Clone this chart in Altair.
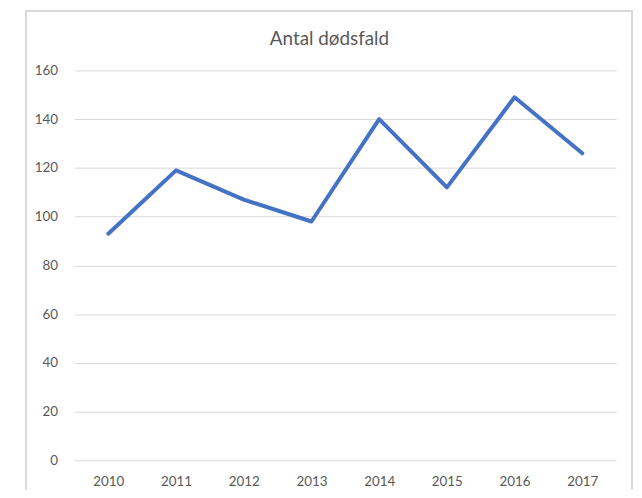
import altair as alt
import pandas as pd

years = ["2010", "2011", "2012", "2013", "2014", "2015", "2016", "2017"]
deaths = [93, 119, 107, 98, 140, 112, 149, 126]
y_ticks = [0, 20, 40, 60, 80, 100, 120, 140, 160]
title_text = "Antal dødsfald"

df = pd.DataFrame({"year": years, "deaths": deaths})

W, H = 546, 393
FONT = "Lato"
GREY = "#595959"

line = alt.Chart(df).mark_line(color="#4472C4", strokeWidth=4, strokeCap="round", strokeJoin="round").encode(
    x=alt.X("year:O", sort=years, title=None,
            scale=alt.Scale(type="point", padding=0.5),
            axis=alt.Axis(labelAngle=0, ticks=False, domain=False, grid=False,
                          labelFont=FONT, labelFontSize=13.5, labelColor=GREY, labelPadding=14)),
    y=alt.Y("deaths:Q", title=None,
            scale=alt.Scale(domain=[0, 160], nice=False),
            axis=alt.Axis(values=y_ticks, ticks=False, domain=False, grid=True,
                          gridColor="#d9d9d9", gridWidth=1,
                          labelFont=FONT, labelFontSize=13.5, labelColor=GREY, labelPadding=17)),
)

border = alt.Chart(df).mark_rect(fill=None, stroke="#d9d9d9", strokeWidth=1.5).encode(
    x=alt.value(-49), x2=alt.value(562), y=alt.value(-60), y2=alt.value(440)
)

title = alt.Chart(pd.DataFrame({"t": [title_text]})).mark_text(
    font=FONT, fontSize=19, color=GREY, baseline="middle", align="center"
).encode(text="t:N", x=alt.value(257), y=alt.value(-32))

chart = alt.layer(border, line, title).properties(
    width=W, height=H,
    autosize=alt.AutoSizeParams(type="none"),
    padding={"left": 67, "top": 61, "right": 18, "bottom": 28},
).configure_view(stroke=None)

chart.save("out.html", embed_options={"renderer": "svg", "actions": False})
